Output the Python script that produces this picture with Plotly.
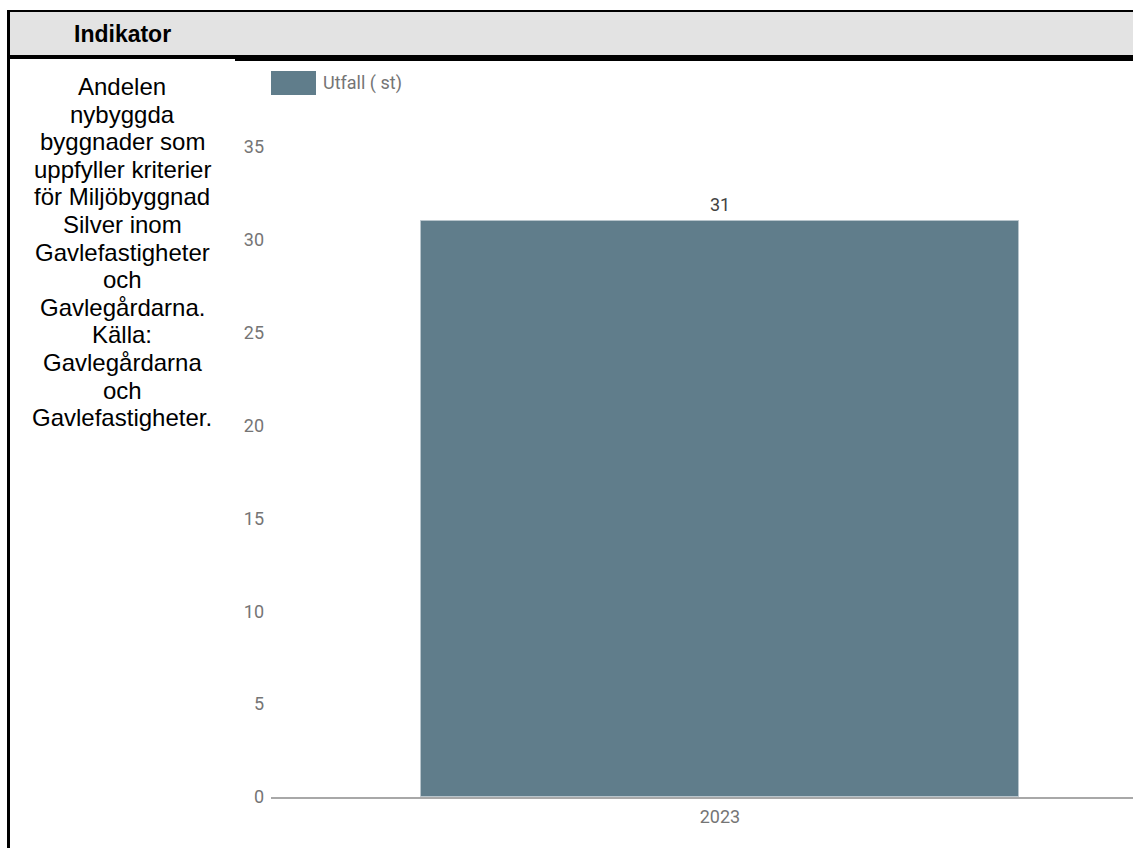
import plotly.graph_objects as go

# ---------------- data ----------------
header_title = "Indikator"
description_lines = [
    "Andelen", "nybyggda", "byggnader som", "uppfyller kriterier",
    "för Miljöbyggnad", "Silver inom", "Gavlefastigheter", "och",
    "Gavlegårdarna.", "Källa:", "Gavlegårdarna", "och", "Gavlefastigheter.",
]
categories = ["2023"]
values = [31]
series_name = "Utfall ( st)"
y_ticks = [0, 5, 10, 15, 20, 25, 30, 35]

# ---------------- layout helpers (pixel -> paper) ----------------
W, H = 1133, 848
def px(x):
    return x / W
def py(y):
    return 1 - y / H

BAR_COLOR = "#607d8b"
TICK_COLOR = "#757575"
CHART_FONT = "Roboto"
TABLE_FONT = "Liberation Sans, Arial"

fig = go.Figure()
fig.add_trace(go.Bar(
    x=categories, y=values, name=series_name, width=1.0,
    marker=dict(color=BAR_COLOR, line=dict(color="#b8c5cc", width=1)),
    showlegend=False,
))

annotations = []
# value labels above bars
for i, v in enumerate(values):
    annotations.append(dict(
        x=i, y=v, xref="x", yref="y", text=str(v), showarrow=False,
        yanchor="bottom", yshift=4,
        font=dict(family=CHART_FONT, size=18, color="#424242"),
    ))

# header title
annotations.append(dict(
    x=px(72), y=py(33.5), xref="paper", yref="paper", xanchor="left", yanchor="middle",
    text="<b>" + header_title + "</b>", showarrow=False,
    font=dict(family=TABLE_FONT, size=23, color="#000000"),
))

# description text, one line at a time
LINE0, LINE_GAP = 86.5, 27.6
for i, line in enumerate(description_lines):
    annotations.append(dict(
        x=px(122), y=py(LINE0 + i * LINE_GAP), xref="paper", yref="paper",
        xanchor="center", yanchor="middle", text=line, showarrow=False,
        font=dict(family=TABLE_FONT, size=24, color="#000000"),
    ))

# custom legend text
annotations.append(dict(
    x=px(321), y=py(83), xref="paper", yref="paper", xanchor="left", yanchor="middle",
    text=series_name, showarrow=False,
    font=dict(family=CHART_FONT, size=18, color=TICK_COLOR),
))

shapes = [
    # header band
    dict(type="rect", xref="paper", yref="paper", x0=px(10), x1=1, y0=py(55), y1=py(12),
         fillcolor="#e3e3e3", line=dict(width=0), layer="below"),
    # top border
    dict(type="rect", xref="paper", yref="paper", x0=px(7), x1=1, y0=py(12), y1=py(10),
         fillcolor="#000000", line=dict(width=0)),
    # header bottom border (left cell thinner)
    dict(type="rect", xref="paper", yref="paper", x0=px(7), x1=px(235), y0=py(59), y1=py(55),
         fillcolor="#000000", line=dict(width=0)),
    dict(type="rect", xref="paper", yref="paper", x0=px(235), x1=1, y0=py(61), y1=py(55),
         fillcolor="#000000", line=dict(width=0)),
    # left border
    dict(type="rect", xref="paper", yref="paper", x0=px(7), x1=px(10), y0=0, y1=py(10),
         fillcolor="#000000", line=dict(width=0)),
    # legend swatch
    dict(type="rect", xref="paper", yref="paper", x0=px(271), x1=px(316), y0=py(95), y1=py(71),
         fillcolor=BAR_COLOR, line=dict(width=0)),
]

fig.update_layout(
    width=W, height=H,
    margin=dict(l=0, r=0, t=0, b=0, pad=0, autoexpand=False),
    paper_bgcolor="#ffffff", plot_bgcolor="#ffffff",
    showlegend=False,
    bargap=0,
    annotations=annotations,
    shapes=shapes,
    xaxis=dict(
        domain=[px(271), 1.0], type="category", range=[-0.75, 0.69],
        showline=True, linecolor="#a8a8a8", linewidth=2,
        showgrid=False, zeroline=False, ticks="", automargin=False,
        tickfont=dict(family=CHART_FONT, size=18, color=TICK_COLOR),
        ticklabelstandoff=2,
    ),
    yaxis=dict(
        domain=[py(797), py(147)], range=[0, 35], tickvals=y_ticks,
        showline=False, showgrid=False, zeroline=False, ticks="", automargin=False,
        tickfont=dict(family=CHART_FONT, size=18, color=TICK_COLOR),
        ticklabelstandoff=6,
    ),
)

fig.write_html("out.html", config={"displayModeBar": False},
               post_script="document.body.style.margin='0';document.body.style.overflow='hidden';")
